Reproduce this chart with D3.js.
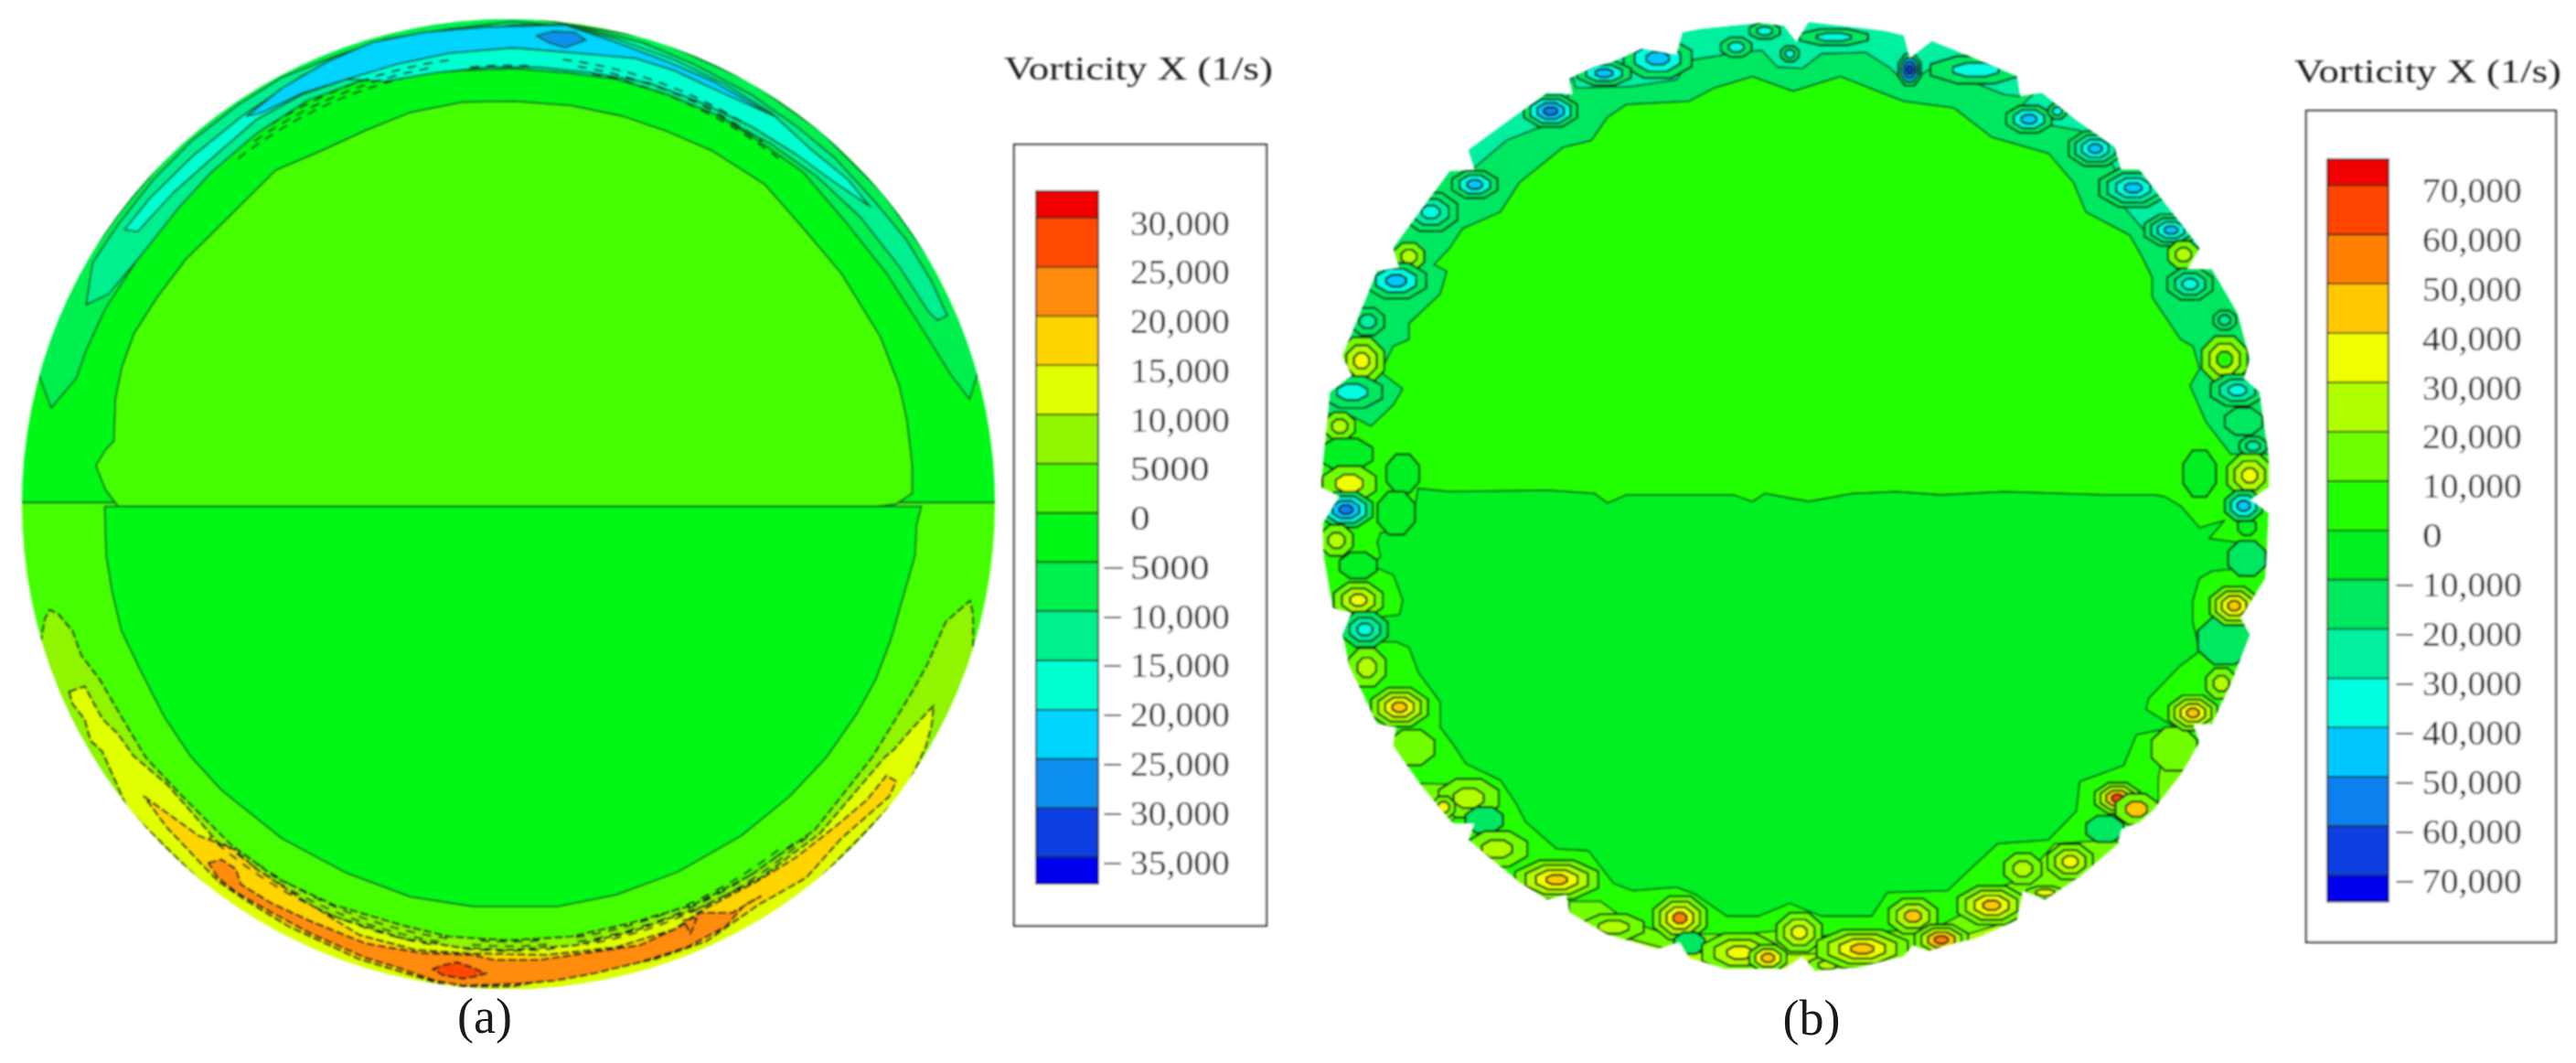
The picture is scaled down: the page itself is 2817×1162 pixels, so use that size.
<!DOCTYPE html>
<html>
<head>
  <title>Vorticity X contours</title>
  <script src="https://cdn.jsdelivr.net/npm/d3@7"></script>
  <style>
    html, body { margin: 0; background: #fff; }
    svg { display: block; }
    text { font-family: "Liberation Serif", serif; fill: #1a1a1a; }
  </style>
</head>
<body>
  <div id="chart"></div>
  <script>
    // all outlines are [x, y] in percent of the disk radius, y up
    const titleText = "Vorticity X (1/s)";

    // panel (a) legend
    const aTicks = [30000, 25000, 20000, 15000, 10000, 5000, 0, -5000, -10000, -15000, -20000, -25000, -30000, -35000];
    const aBarEnds = [32700, -37700];
    const aColors = ["#0000f0", "#1040e0", "#1090f0", "#00d4ff", "#00ffd0", "#00f090", "#00f050", "#00f814", "#45ff00", "#8ff500", "#e0ff00", "#ffd500", "#ff8c10", "#ff4a00", "#f00000"];

    // panel (b) legend
    const bTicks = [70000, 60000, 50000, 40000, 30000, 20000, 10000, 0, -10000, -20000, -30000, -40000, -50000, -60000, -70000];
    const bBarEnds = [75300, -75300];
    const bColors = ["#0000f0", "#1040e0", "#1080f0", "#00c8ff", "#00ffe0", "#00f0a0", "#00e860", "#00f020", "#22ff00", "#70ff00", "#b0ff00", "#f0ff00", "#ffc800", "#ff8000", "#ff4500", "#f00000"];

    // panel (a) contours
    const aUpperHalf = [[-110, 0.3], [110, 0.3], [110, 110], [-110, 110]];
    const aLowerHalf = [[-110, 0.3], [110, 0.3], [110, -110], [-110, -110]];
    const aUpperInner = [[-80.2, -0.5], [-82.8, 2.9], [-84.8, 7.9], [-82.8, 11.2], [-81.1, 13], [-80.8, 21.6], [-79.5, 28.1], [-76.9, 35.3], [-72.3, 42.5], [-66.3, 50.5], [-59, 57.7], [-47.8, 68.9], [-38.6, 72.8], [-29.3, 77.1], [-20.1, 80.8], [-9.5, 82.9], [1.1, 83.1], [12.9, 82.2], [23.5, 80], [32.8, 76.8], [42, 72.8], [52.6, 66], [60.5, 57], [68.4, 47.6], [76.4, 34.6], [80.3, 24.5], [81.9, 17.3], [83, 7.9], [83, 2.2], [79.7, 0], [75.7, -0.5]];
    const aCrescent1 = [[-94, 19.8], [-88.8, 26], [-86.8, 31.7], [-82.8, 40.4], [-76.2, 50.5], [-69, 60.6], [-61, 70], [-51.8, 77.1], [-41.2, 84.4], [-30.6, 88], [-20, 89.4], [-9.5, 90.1], [1, 90.5], [11.6, 89.8], [22.2, 88], [32.8, 85.1], [42, 80.8], [51.3, 75], [60.5, 68.5], [69.7, 57.7], [77.7, 47.6], [85.6, 35.3], [90.9, 26.7], [94.8, 21.6], [97, 29], [93, 40], [87, 50], [77, 64], [64, 77], [50, 87], [30, 96], [0, 101], [-20, 99], [-40, 93], [-55, 85], [-70, 72], [-80, 60], [-90, 46], [-94, 37], [-97, 28]];
    const aCrescent2 = [[-86.8, 41.1], [-85.5, 49.7], [-80.2, 57.7], [-72.9, 67], [-65, 75], [-55.7, 82.2], [-46.5, 88], [-35.9, 92.3], [-25.4, 95.9], [-12.2, 98], [1, 99.5], [14.3, 98.4], [27.5, 95.2], [38, 90.8], [50, 84.4], [59.2, 77.9], [67.1, 71.4], [75, 62.7], [81.6, 54.8], [86.9, 46.1], [90.2, 38.9], [88.2, 37.9], [86.3, 39.7], [80.3, 49], [72.4, 59.1], [63.1, 67.8], [53.9, 74.3], [43.3, 80], [32.8, 84.4], [22.2, 87.6], [11.6, 89], [1, 89.8], [-9.5, 89.4], [-20, 88.7], [-30.6, 87.2], [-41.2, 83.3], [-51.8, 76.4], [-61, 68.5], [-67.6, 61.3], [-75.6, 51.2], [-82.2, 43.3]];
    const aCrescent3 = [[-78.9, 56.6], [-73.7, 63.1], [-65, 71.7], [-54.4, 80.3], [-42.5, 88.3], [-30.6, 93.7], [-18.8, 96.6], [-6.9, 97.7], [1, 98.8], [11.6, 98.8], [22.2, 95.9], [34.1, 91.6], [44.6, 86.5], [53.9, 80.8], [61.8, 73.5], [69.7, 67], [74.4, 61.3], [67.1, 66.3], [59.2, 72.1], [49.9, 77.9], [39.4, 82.9], [28.8, 86.9], [16.9, 89], [6.3, 90.1], [-4.2, 90.1], [-14.8, 89], [-25.4, 87.2], [-33.3, 87.6], [-42.5, 84.4], [-51.8, 79.3], [-59.7, 72.4], [-68.9, 64.2], [-76.2, 56.2]];
    const aCrescent4 = [[-53.8, 80], [-46.5, 85.8], [-37.3, 91.2], [-28, 95.2], [-17.4, 97.3], [-4.2, 98.4], [11.6, 98.8], [22.2, 95.2], [32.8, 91.2], [42, 87.2], [54.6, 80], [43.3, 85.1], [34.1, 89.4], [26.2, 91.9], [14.3, 93], [1, 94.1], [-12.2, 93], [-22.7, 90.8], [-33.3, 87.6], [-42.5, 84.7], [-50.5, 80.8]];
    const aUpperCore = [[5.7, 96.6], [9, 97.5], [13.6, 97.3], [15.9, 95.7], [11.6, 94.1], [8.3, 95.2]];
    const aLowerInner = [[-83, -0.5], [-82.7, -10.5], [-81.5, -18], [-79.6, -26], [-75.8, -34], [-70.8, -43.8], [-65.2, -52.2], [-59, -59], [-46.5, -69], [-33.5, -76], [-20.1, -81], [-7.3, -83], [10.2, -83], [22.2, -80.6], [34.8, -75.9], [47.9, -68.4], [57.8, -60.3], [65.4, -52.2], [71.7, -43.1], [75.5, -36.2], [78.6, -28], [81.1, -19.3], [83.6, -10.5], [83.9, -4.2], [84.9, -0.5]];
    const aLowerBand1 = [[-96.2, -28.7], [-95.3, -23.7], [-94.3, -21.8], [-92.5, -22.7], [-89.6, -26.2], [-87.8, -31.2], [-84, -36.2], [-79.6, -43.8], [-74.6, -52.2], [-67.6, -59.7], [-57, -70.3], [-47.8, -77.1], [-35.9, -82.7], [-21.4, -87], [-12.2, -89.2], [0, -90], [12.9, -89.2], [24.8, -86.5], [38, -82.7], [49.9, -76.5], [63, -67.2], [74.8, -52.2], [79.2, -45], [83, -38.7], [86.1, -33.1], [89.9, -24.3], [94.9, -19.9], [95.5, -22.7], [95.5, -32], [92, -43], [82, -60], [67, -76], [47, -91], [20, -101], [0, -103], [-20, -101], [-47, -91], [-67, -76], [-82, -60], [-92, -43], [-97, -31]];
    const aLowerBand2 = [[-90.3, -38.7], [-87.1, -37.6], [-85.2, -41.2], [-83.4, -44.4], [-80.2, -47.5], [-77.1, -51.9], [-70, -58], [-60, -69.5], [-48, -79], [-36, -85], [-22, -89.5], [-10, -91.5], [0, -92], [14, -91], [26, -88], [40, -83], [52, -77], [64, -68], [77.4, -52.2], [79.2, -50.7], [83, -46.3], [87.4, -41.6], [87, -45.6], [85.8, -50], [81.6, -59], [72, -69], [61.2, -80], [47.3, -90], [31, -97], [0, -103], [-20, -101], [-37, -95], [-56, -85], [-78.2, -63], [-83.5, -51], [-85.9, -48.8], [-87.1, -44.4], [-89.6, -41.2]];
    const aLowerBand3 = [[-74.9, -60.3], [-63.7, -68.4], [-56.4, -71.2], [-51.8, -75.3], [-42.5, -81.5], [-30.6, -88.9], [-18.8, -92], [-6.9, -92.7], [7.7, -93], [22.2, -91.4], [34.1, -87.7], [39.4, -84], [51.3, -77.7], [59.2, -72.8], [67.1, -66.6], [73.7, -61], [77.7, -56], [79.7, -57.2], [78.3, -60.3], [68.4, -69], [61.2, -77.1], [51.3, -82.7], [40.7, -90.2], [30.1, -93.9], [14.3, -97], [1, -99.5], [-12.2, -99.5], [-30.6, -93.9], [-45.2, -87.1], [-54.4, -81.5], [-59.7, -77.8], [-65, -72.2], [-70.3, -66.6]];
    const aLowerBand4 = [[-61.7, -74], [-59, -73.3], [-56, -75.3], [-55, -78.4], [-49.1, -82.1], [-41.2, -85.8], [-29.4, -90.6], [-18, -92.6], [-7.4, -93], [-3, -94], [6.4, -94], [13.4, -93], [22.8, -91.6], [27, -91], [35.4, -87.1], [39.4, -84.3], [46, -84.3], [51.9, -80.9], [48.6, -82.7], [44.7, -87.1], [36.7, -91.4], [27, -94.5], [17.7, -96.8], [9.6, -98.3], [2, -98.9], [-9.3, -99.3], [-15, -98.3], [-23, -95.5], [-29.4, -93.6], [-41.2, -88.3], [-49.1, -84], [-55.7, -80.2], [-59.7, -77.1]];
    const aLowerCore = [[-15.6, -95.9], [-13.4, -95.1], [-10.5, -94.5], [-7.7, -95.5], [-4.6, -96.8], [-5.8, -97.2], [-9.3, -97.9], [-13.4, -97.2]];
    const aWedge = [[36, -85.8], [38.7, -85.5], [37.4, -88.6]];

    // value of each filled zone, bottom layer first
    const aSolidZones = [[-2500, aUpperHalf], [2500, aLowerHalf], [2500, aUpperInner], [-7500, aCrescent1], [-12500, aCrescent2], [-17500, aCrescent3], [-22500, aCrescent4], [-27500, aUpperCore], [-2500, aLowerInner]];
    const aDashedZones = [[7500, aLowerBand1], [12500, aLowerBand2], [17500, aLowerBand3], [22500, aLowerBand4], [27500, aLowerCore], [22500, aWedge]];
    // tightly packed contour lines: radius percent, from degree, to degree (clockwise from the top)
    const aPackedLines = [[90.3, -38, -14], [91.2, -35, -10], [92.2, -32, -7], [90.3, 11, 38], [91.2, 9, 35], [92.2, 7, 32], [90.3, -5, 3], [90.3, 142, 172], [91.2, 140, 171], [92.1, 138, 170], [90.3, 188, 218], [91.2, 189, 220], [92.1, 190, 222], [90.1, 176, 184], [91, 175, 185], [92, 174, 186]];

    // panel (b) contours
    const bOutline = [[2.5, 99.7], [18.5, 97.9], [22.5, 96.9], [23.8, 92.1], [28.5, 95.7], [35.8, 92.8], [46.4, 88.3], [47.1, 84.1], [51.7, 84.8], [59, 79], [67, 73.4], [68.4, 68.6], [72.3, 68.6], [77, 62.4], [85, 52.1], [82.3, 47.6], [87.6, 47.6], [93, 38.3], [95.6, 28.6], [94.3, 24.5], [97.6, 21.7], [99.6, 7.9], [99.6, 1.7], [95.6, -1], [99.6, -3.8], [98.9, -17.6], [93.6, -26], [95.6, -29.5], [91.6, -39.8], [87.6, -48.3], [83.6, -48.3], [85, -52.1], [81, -59], [75, -66.7], [72.3, -69], [68.4, -70.5], [67.8, -73.6], [59.7, -80.5], [52.4, -85.4], [47.7, -83.5], [46.4, -89.7], [37.8, -93.5], [33.1, -94.6], [27.8, -96.2], [24.5, -95], [22.5, -97.3], [13.2, -99.6], [3.9, -100.4], [1.2, -97.3], [-2.8, -100], [-14.8, -100], [-22.7, -97.7], [-24.7, -94.3], [-29.4, -95.8], [-40, -92.7], [-48, -88.1], [-48.7, -84.3], [-52.7, -85.4], [-58.7, -81.6], [-69.3, -72.8], [-68, -69.3], [-72.6, -69.3], [-79.9, -60.5], [-85.2, -52.9], [-84.6, -49], [-88.6, -48.3], [-94.5, -36], [-95.9, -29.5], [-94, -24.9], [-98, -23.8], [-99.9, -13], [-100.1, -6.1], [-96.5, -0.3], [-100.5, 1.7], [-99.9, 7.9], [-98.5, 21.7], [-93.9, 25.2], [-95.9, 29.3], [-88.6, 47.2], [-83.9, 47.9], [-85.2, 52.1], [-73.3, 68.3], [-68, 68.6], [-69.3, 72.8], [-61.3, 78.6], [-52.7, 84.8], [-47.3, 84.5], [-48, 87.9], [-42.7, 90.3], [-38.7, 91.4], [-32.7, 94.1], [-25.4, 92.8], [-24.1, 97.6], [-20.1, 98.3], [-8.1, 99.5], [-2.8, 99], [-0.1, 95.5]];
    const bUpperBand = [[-89.9, 14.5], [-85.2, 19], [-83.2, 22.4], [-87.9, 25.9], [-85.2, 31.4], [-81.9, 32.8], [-81.9, 36.2], [-75.3, 42.4], [-73.9, 47.2], [-76.6, 48.6], [-73.3, 52.1], [-70.6, 56.2], [-62.6, 59.7], [-58.6, 65.9], [-49.3, 73.4], [-43.4, 74.8], [-40, 79.7], [-36, 82.4], [-22.7, 83.1], [-17.4, 85.9], [-9.4, 88.3], [-0.8, 85.2], [9.2, 88.3], [22.5, 83.1], [33.1, 81.7], [41.1, 75.5], [53.1, 72.1], [58.4, 65.9], [61, 59.7], [70.3, 54.8], [73, 50], [75, 45.9], [75, 41.7], [81, 32.8], [83.6, 31.4], [85, 26.6], [83, 23.1], [86.3, 15.5], [91.6, 8.6], [102, 8.6], [120, 8.6], [120, 120], [-120, 120], [-120, 18], [-94.5, 16.9]];
    const bTopPatch = [[-46.7, 85.9], [-34.7, 86.2], [-25.4, 87.6], [-22.7, 91.7], [-12.1, 93.4], [-7.4, 93.8], [-4.1, 90.3], [1.2, 90], [5.2, 93.1], [14.5, 93.4], [19.8, 90], [23.1, 86.6], [27.8, 89.7], [35.8, 87.6], [43.8, 84.5], [47.1, 84.1], [49, 90.7], [45, 105], [0, 110], [-45, 105], [-60, 95], [-48, 91.4]];
    const bLeftPatch = [[-68.6, 68.6], [-61.3, 74.8], [-55.3, 77.2], [-49.3, 78.8], [-47, 92], [-75, 80]];
    const bRightPatch = [[44.4, 79], [51.7, 78.3], [59.7, 76.9], [66.4, 70], [69, 65.9], [66.4, 63.8], [73, 56.2], [83.6, 51.4], [95, 55], [75, 82], [60, 95]];
    const bLowerInner = [[-80, 1.4], [-80.6, -2.3], [-84.6, -7.7], [-87.9, -8], [-88.6, -10], [-87.9, -13], [-89.9, -14.9], [-85.2, -16.9], [-83.2, -22.2], [-83.9, -25.3], [-87.9, -25.7], [-87.9, -31], [-84.6, -31], [-81.9, -32.2], [-79.9, -37.5], [-75.3, -43.7], [-75.3, -49], [-71.9, -53.6], [-69.9, -56.7], [-62.6, -60.2], [-59.3, -65.1], [-57.3, -69], [-50.7, -74.7], [-44, -75.1], [-38.7, -82], [-34.7, -83.5], [-25.4, -82.8], [-21.4, -84.3], [-14.8, -88.9], [-8.1, -88.9], [-1.5, -86.2], [5.2, -88.9], [15.8, -88.9], [19.1, -83.9], [31.8, -83.5], [35.8, -79.7], [42.4, -73.6], [53.1, -72.8], [59, -66.7], [59.7, -60.5], [69, -57.1], [71.7, -50.6], [79.7, -49], [73.7, -45.2], [74.3, -42.9], [81, -36], [85, -33], [83.6, -26.8], [83.6, -22.2], [85, -17.6], [87.6, -16.1], [91.6, -15.7], [93, -10], [87, -9.2], [90.3, -5.4], [85, -6.9], [81, -2.3], [77.7, -0.4], [75.7, 0], [65, 0], [43.8, 0.7], [30.5, 0], [21.1, 0.7], [11.8, 0.3], [2.5, -1.4], [-6.8, 0.3], [-9.4, -1.4], [-13.4, 0], [-36, 0], [-40, -1.7], [-42.7, 0.3], [-52.7, 1], [-73.3, 0.7]];
    const bBottomWash = [[-48, -85.8], [-41.4, -85.8], [-36, -89.7], [-25.4, -93.5], [-20.1, -92.7], [-12.1, -92.7], [-4.1, -92], [5.2, -93.1], [14.5, -92], [27.8, -92], [35.8, -88.1], [39.8, -83.5], [47.7, -81.2], [54.4, -73.6], [66.4, -72.8], [85, -80], [50, -110], [-50, -110]];
    const bBottomRim = [[-45, -91], [-25, -96.5], [0, -97], [25, -96], [45, -90], [60, -83], [50, -110], [-50, -110]];
    const bLeftWash = [[-79.3, -60.9], [-65.3, -61.3], [-64, -65.9], [-71.3, -67.4], [-73.3, -69], [-90, -70]];
    const bRightWash = [[77.7, -52.1], [83.6, -51.3], [82.3, -59.8], [76.3, -65.9], [76.3, -59.8]];
    const bZones = [[-15000, bUpperBand], [-25000, bTopPatch], [-25000, bLeftPatch], [-25000, bRightPatch], [-5000, bLowerInner], [15000, bBottomWash], [25000, bBottomRim], [15000, bLeftWash], [15000, bRightWash]];

    // closed eddies near the rim: x, y, half width, half height, contour values outside in
    const bUpperEddies = [
      [-6.8, 97.9, 2.7, 1.4, [-35000]], [-12.8, 94.5, 2.7, 1.7, [-35000]], [-1.5, 93.1, 1.6, 1.4, [-35000]], [7.8, 96.6, 6, 1.4, [-35000]],
      [-29.4, 92.1, 6, 3.4, [-35000, -45000]], [-40.7, 89, 4.7, 2.1, [-35000, -45000]], [-52, 81, 4.7, 2.8, [-35000, -45000, -55000]],
      [37.8, 89.7, 8, 2.4, [-35000]], [23.8, 89.7, 2, 2.8, [-45000, -55000, -65000]], [49, 79.3, 4, 2.4, [-35000, -45000]], [55, 81, 1.6, 1.4, [-35000]],
      [63, 73.1, 4.7, 3.1, [-25000, -35000, -45000]], [71, 64.8, 6, 3.4, [-25000, -35000, -45000]], [79, 55.9, 4.7, 2.8, [-25000, -35000, -45000]],
      [81.6, 50.7, 2.7, 2.4, [15000, 25000]], [83, 44.5, 4, 2.8, [-25000, -35000]], [90.3, 36.9, 2, 1.7, [-25000]], [90.3, 28.6, 4, 4.1, [15000, 25000, 5000]],
      [93, 22.1, 4.7, 2.8, [-25000, -35000]], [94.3, 15.5, 3.3, 2.4, [-15000]], [96.3, 10.3, 2.4, 1.7, [-25000]], [95.6, 4.1, 4, 3.8, [15000, 25000, 35000]], [85, 4.5, 2.9, 4.1, [-5000]],
      [-68, 65.5, 4, 2.4, [-35000, -45000]], [-77.3, 59.7, 4.7, 3.4, [-25000, -35000]], [-81.9, 50.3, 2.7, 2.4, [25000]], [-84.6, 45.2, 5.3, 3.1, [-35000, -45000]],
      [-90.6, 36.6, 2.9, 2.4, [-25000]], [-91.9, 28.3, 4, 4.1, [15000, 25000, 35000]], [-93.9, 21.7, 5.3, 2.8, [-35000]], [-96.5, 14.5, 2.7, 2.4, [25000]],
      [-95.2, 8.6, 4.7, 2.8, [-5000]], [-94.5, 2.4, 4.7, 3.1, [15000, 35000]], [-83.2, 4.5, 2.9, 3.4, [-5000]]
    ];
    const bLowerEddies = [
      [-95.2, -3.1, 4.7, 3.1, [-35000, -45000, -55000]], [-84.6, -3.8, 3.3, 3.8, [-5000]],
      [-97.2, -9.6, 2.9, 2.7, [15000, 25000]], [-92.6, -14.9, 3.3, 2.3, [-5000]], [-92.6, -22.2, 4.3, 3.1, [15000, 25000, 35000]], [-91.2, -28.4, 4, 3.1, [-25000, -35000]],
      [-90.8, -36.4, 3.3, 3.4, [15000, 25000]], [-83.9, -44.8, 5, 3.4, [25000, 35000, 45000]], [-81.3, -53.3, 4, 3.1, [15000]], [-69.3, -64, 5.3, 3.4, [15000, 25000]],
      [-74.6, -65.9, 2, 1.9, [35000]], [-66, -68.6, 3.3, 2.3, [-15000]], [-63.3, -74.7, 5.3, 3.1, [15000, 25000]], [-50.7, -81.2, 7.3, 3.4, [25000, 35000, 45000]],
      [-38.7, -91.2, 5.3, 2.3, [15000, 25000]], [-24.7, -89.3, 4.7, 3.8, [25000, 35000, 55000]], [-22.7, -94.6, 2.7, 1.9, [-15000]], [-12.1, -96.6, 6.6, 3.4, [15000, 25000, 35000]],
      [-6.1, -97.7, 3.3, 2.3, [35000, 45000]], [0.5, -92.3, 4, 3.4, [15000, 25000, 35000]], [6.5, -99.2, 3.3, 1.5, [25000]], [13.8, -95.8, 8, 3.4, [25000, 35000, 45000]],
      [24.5, -88.9, 4.3, 3.1, [15000, 25000, 45000]], [30.5, -93.9, 4.7, 2.7, [25000, 45000, 55000]], [41.1, -86.6, 6, 3.4, [25000, 35000, 45000]], [47.7, -78.9, 3.3, 2.7, [15000, 25000]],
      [52.4, -83.9, 3.3, 1.1, [35000]], [57.7, -77.4, 4, 3.1, [15000, 25000, 35000]], [65, -70.5, 3.3, 2.3, [-15000]], [67.7, -64, 4, 2.7, [25000, 45000, 65000]],
      [71.7, -66.3, 3.7, 2.7, [45000]], [79.7, -53.6, 4, 3.8, [15000]], [83.6, -46, 4.3, 3.1, [25000, 35000, 45000]], [89.6, -39.8, 2.7, 2.7, [25000]],
      [90.3, -30.7, 4.7, 4.2, [-15000]], [92.3, -23.4, 4.3, 3.4, [25000, 35000, 45000]], [95, -13.4, 3.3, 3.1, [-15000]], [95, -6.7, 1.6, 1.5, [-5000]], [94.3, -2.3, 3.3, 2.7, [-35000, -45000]]
    ];

    const svg = d3.select("#chart").append("svg").attr("width", 2817).attr("height", 1162);
    const defs = svg.append("defs");
    defs.append("filter").attr("id", "soft").attr("x", "-5%").attr("y", "-5%").attr("width", "110%").attr("height", "110%")
      .append("feGaussianBlur").attr("stdDeviation", 0.8);

    const colorScale = (ticks, colors) => d3.scaleThreshold().domain(ticks.slice().reverse()).range(colors);
    const aColor = colorScale(aTicks, aColors);
    const bColor = colorScale(bTicks, bColors);

    const diskScales = (cx, cy, rx, ry) => ({
      x: d3.scaleLinear().domain([-100, 100]).range([cx - rx, cx + rx]),
      y: d3.scaleLinear().domain([-100, 100]).range([cy + ry, cy - ry])
    });
    const outlinePath = s => d3.line().x(p => s.x(p[0])).y(p => s.y(p[1])).curve(d3.curveLinearClosed);

    function drawZones(g, zones, color, path, stroke, width, dash) {
      g.append("g").selectAll("path").data(zones).join("path")
        .attr("d", d => path(d[1]))
        .attr("fill", d => color(d[0]))
        .attr("stroke", stroke)
        .attr("stroke-width", width)
        .attr("stroke-dasharray", dash)
        .attr("stroke-linejoin", "round");
    }

    // panel (a)
    const aScale = diskScales(556, 551, 532, 530);
    defs.append("clipPath").attr("id", "clipA").append("ellipse")
      .attr("cx", aScale.x(0)).attr("cy", aScale.y(0))
      .attr("rx", aScale.x(100) - aScale.x(0)).attr("ry", aScale.y(0) - aScale.y(100));
    const aOuter = svg.append("g").attr("filter", "url(#soft)");
    const aDisk = aOuter.append("g").attr("clip-path", "url(#clipA)");
    const aPath = outlinePath(aScale);
    drawZones(aDisk, aSolidZones, aColor, aPath, "#0c5a24", 1.8, null);
    drawZones(aDisk, aDashedZones, aColor, aPath, "#141a10", 2.2, "9 3");

    const radius = d3.scaleLinear().domain([0, 100]).range([0, 531]);
    const angle = d3.scaleLinear().domain([0, 360]).range([0, 2 * Math.PI]);
    const arcLine = d3.lineRadial().angle(d => angle(d[0])).radius(d => radius(d[1]));
    aDisk.append("g").attr("transform", `translate(${aScale.x(0)},${aScale.y(0)})`)
      .selectAll("path").data(aPackedLines).join("path")
      .attr("d", d => arcLine(d3.range(d[1], d[2] + 0.5, 1).map(a => [a, d[0]])))
      .attr("fill", "none").attr("stroke", "#10301a").attr("stroke-width", 2).attr("stroke-dasharray", "10 8");

    // panel (b)
    const bScale = diskScales(1965, 541, 518, 518);
    const bPath = outlinePath(bScale);
    defs.append("clipPath").attr("id", "clipB").append("path").attr("d", bPath(bOutline));
    const bOuter = svg.append("g").attr("filter", "url(#soft)");
    const bDisk = bOuter.append("g").attr("clip-path", "url(#clipB)");
    bDisk.append("path").attr("d", bPath(bOutline)).attr("fill", bColor(5000));
    drawZones(bDisk, bZones, bColor, bPath, "#0b4a1c", 1.8, null);

    // each eddy gets a wider enclosing contour, then its own values inward, as blocky octagons
    const rings = bUpperEddies.concat(bLowerEddies).flatMap(e => {
      const enclosing = Math.abs(e[4][0]) > 15000 ? [Math.sign(e[4][0]) * 15000] : [];
      const values = enclosing.concat(e[4]);
      return values.map((v, i) => ({ x: e[0], y: e[1], w: e[2], h: e[3], v, k: 1.3 * (1 - i / values.length) }));
    });
    const octagon = d => d3.range(8).map(i => {
      const a = (i + 0.5) * Math.PI / 4;
      return [d.x + d.w * d.k * Math.cos(a), d.y + d.h * d.k * Math.sin(a)];
    });
    bDisk.append("g").selectAll("path").data(rings).join("path")
      .attr("d", d => bPath(octagon(d)))
      .attr("fill", d => bColor(d.v))
      .attr("stroke", "#0c1a10")
      .attr("stroke-width", 2.2)
      .attr("stroke-linejoin", "round");

    // legend boxes with the colour bar and its axis
    function drawLegend(o) {
      const g = svg.append("g").attr("filter", "url(#soft)");
      const y = d3.scaleLinear().domain([o.ticks[0], o.ticks[o.ticks.length - 1]]).range(o.yRange);
      g.append("text").attr("x", o.titleX).attr("y", o.titleY)
        .attr("font-size", 36).attr("textLength", o.titleW).attr("lengthAdjust", "spacingAndGlyphs").text(titleText);
      g.append("rect").attr("x", o.box[0]).attr("y", o.box[1])
        .attr("width", o.box[2] - o.box[0]).attr("height", o.box[3] - o.box[1])
        .attr("fill", "#fff").attr("stroke", "#2a2a2a").attr("stroke-width", 2.2);

      const edges = [o.ends[0]].concat(o.ticks, [o.ends[1]]);
      g.append("g").selectAll("rect").data(d3.pairs(edges)).join("rect")
        .attr("x", o.barX).attr("width", o.barW)
        .attr("y", d => y(d[0]))
        .attr("height", d => y(d[1]) - y(d[0]))
        .attr("fill", d => o.color((d[0] + d[1]) / 2));
      g.append("g").selectAll("line").data(o.ticks).join("line")
        .attr("x1", o.barX).attr("x2", o.barX + o.barW)
        .attr("y1", d => y(d)).attr("y2", d => y(d))
        .attr("stroke", "#16240f").attr("stroke-width", 1.6);
      g.append("rect").attr("x", o.barX).attr("width", o.barW)
        .attr("y", y(o.ends[0])).attr("height", y(o.ends[1]) - y(o.ends[0]))
        .attr("fill", "none").attr("stroke", "#1c1c1c").attr("stroke-width", 1.8);

      const axis = g.append("g").attr("transform", `translate(${o.labelX},0)`)
        .call(d3.axisRight(y).tickValues(o.ticks).tickSize(0).tickFormat(""));
      axis.select(".domain").remove();
      axis.selectAll(".tick text")
        .attr("x", 0).attr("dy", null).attr("y", 0)
        .attr("text-anchor", "start").attr("font-size", 37)
        .each(function (v) {
          const t = d3.select(this);
          const a = Math.abs(v);
          const wide = a >= 10000;
          const sx = wide ? 1.07 : 1.17;
          t.attr("transform", `translate(0,${o.labelDy}) scale(${sx},1)`);
          if (v < 0) t.append("tspan").attr("x", -26 * 1.17 / sx).text("\u2212");
          t.append("tspan").attr("x", 0).text(wide ? d3.format(",")(a) : a);
        });
    }

    drawLegend({ ticks: aTicks, ends: aBarEnds, color: aColor, yRange: [238, 937], box: [1109, 158, 1385, 1012], barX: 1133, barW: 68, labelX: 1236, labelDy: 18, titleX: 1098, titleY: 87, titleW: 294 });
    drawLegend({ ticks: bTicks, ends: bBarEnds, color: bColor, yRange: [202.5, 957], box: [2522, 121, 2795, 1030], barX: 2545, barW: 67, labelX: 2649, labelDy: 18, titleX: 2509, titleY: 90, titleW: 292 });

    svg.append("text").attr("x", 530).attr("y", 1129).attr("text-anchor", "middle").attr("font-size", 54).text("(a)");
    svg.append("text").attr("x", 1981).attr("y", 1131).attr("text-anchor", "middle").attr("font-size", 54).text("(b)");
  </script>
</body>
</html>
